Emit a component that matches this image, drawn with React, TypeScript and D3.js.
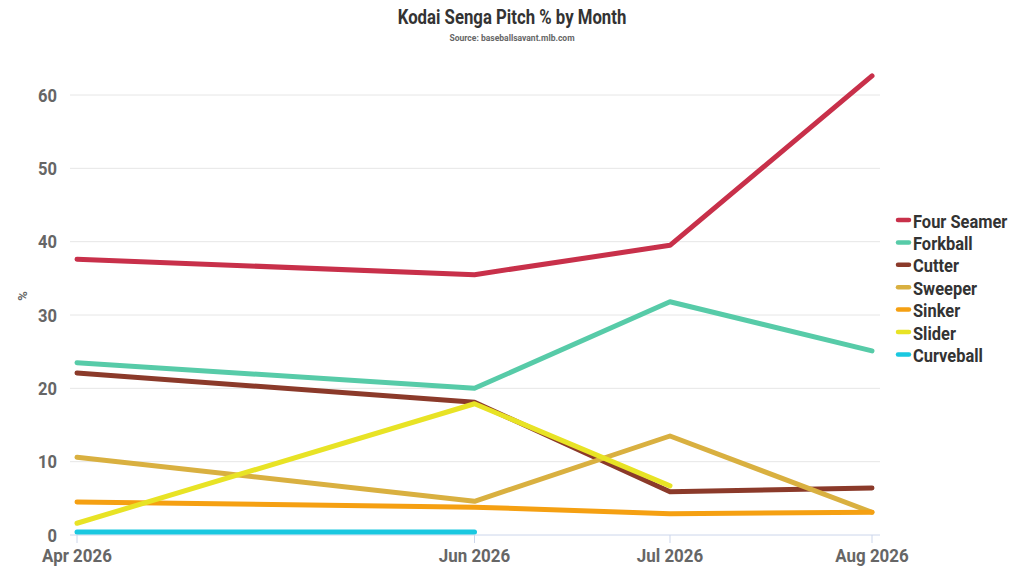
import React, { useEffect, useRef } from 'react';
import * as d3 from 'd3';

const months = ['2026-04-01', '2026-06-01', '2026-07-01', '2026-08-01'];
const monthLabels = ['Apr 2026', 'Jun 2026', 'Jul 2026', 'Aug 2026'];

const pitchNames = ['Four Seamer', 'Forkball', 'Cutter', 'Sweeper', 'Sinker', 'Slider', 'Curveball'];
const pitchColors = ['#c8304a', '#57cba8', '#8b3a2a', '#d9b040', '#f5a012', '#e8e325', '#1ac8e0'];

const fourSeamer = [37.6, 35.5, 39.5, 62.6];
const forkball = [23.5, 20.0, 31.8, 25.1];
const cutter = [22.1, 18.1, 5.9, 6.4];
const sweeper = [10.6, 4.6, 13.5, 3.1];
const sinker = [4.5, 3.8, 2.9, 3.1];
const slider = [1.6, 17.9, 6.7, null];
const curveball = [0.4, 0.4, null, null];

const yTicks = [0, 10, 20, 30, 40, 50, 60];

const seriesValues = [fourSeamer, forkball, cutter, sweeper, sinker, slider, curveball];

const W = 1024;
const H = 576;
const FONT = 'Roboto, "Noto Sans", sans-serif';

type Sel = d3.Selection<any, unknown, null, undefined>;

// Roboto squeezed horizontally to look like the condensed face in the original
function addText(
  parent: Sel,
  x: number,
  y: number,
  text: string,
  size: number,
  fill: string,
  anchor = 'start',
  sx = 0.9,
) {
  return parent.append('g')
    .attr('transform', `translate(${x}, ${y}) scale(${sx}, 1)`)
    .append('text')
    .attr('text-anchor', anchor)
    .style('font-family', FONT)
    .style('font-weight', 700)
    .style('font-size', `${size}px`)
    .style('fill', fill)
    .text(text);
}

export default function App() {
  const svgRef = useRef<SVGSVGElement>(null);

  useEffect(() => {
    if (!svgRef.current) return;
    const svg = d3.select(svgRef.current) as unknown as Sel;
    svg.selectAll('*').remove();

    const parse = d3.timeParse('%Y-%m-%d');
    const dates = months.map(m => parse(m) as Date);

    const x = d3.scaleTime()
      .domain([dates[0], dates[dates.length - 1]])
      .range([77, 872]);

    const y = d3.scaleLinear()
      .domain([0, 60])
      .range([535, 95]);

    // Title
    addText(svg, 512, 24, 'Kodai Senga Pitch % by Month', 19.5, '#333', 'middle', 0.86);
    addText(svg, 512, 41, 'Source: baseballsavant.mlb.com', 9.5, '#666', 'middle', 0.9);

    // Grid
    const g = svg.append('g');
    g.selectAll('.grid')
      .data(yTicks.filter(t => t > 0))
      .enter().append('line')
      .attr('x1', 70).attr('x2', 880)
      .attr('y1', d => y(d)).attr('y2', d => y(d))
      .style('stroke', '#e6e6e6')
      .style('stroke-width', 1);

    // X baseline
    g.append('line')
      .attr('x1', 70).attr('x2', 880)
      .attr('y1', y(0)).attr('y2', y(0))
      .style('stroke', '#ccd6eb')
      .style('stroke-width', 1);

    // Y axis labels
    yTicks.forEach(t => {
      addText(g, 57, y(t) + 6.5, String(t), 18, '#666', 'end', 0.92);
    });

    svg.append('text')
      .attr('transform', `translate(27, 296) rotate(-90)`)
      .attr('text-anchor', 'middle')
      .style('font-family', FONT)
      .style('font-weight', 700)
      .style('font-size', '13px')
      .style('fill', '#666')
      .text('%');

    // X ticks and labels
    dates.forEach((d, i) => {
      g.append('line')
        .attr('x1', x(d)).attr('x2', x(d))
        .attr('y1', y(0)).attr('y2', y(0) + 8)
        .style('stroke', '#ccd6eb');
      addText(g, x(d), 561.5, monthLabels[i], 18, '#666', 'middle', 0.94);
    });

    // Lines
    const line = d3.line<{ date: Date; v: number | null }>()
      .defined(p => p.v !== null)
      .x(p => x(p.date))
      .y(p => y(p.v as number));

    seriesValues.forEach((vals, i) => {
      const pts = vals.map((v, j) => ({ date: dates[j], v }));
      g.append('path')
        .datum(pts)
        .attr('d', line)
        .attr('fill', 'none')
        .attr('stroke', pitchColors[i])
        .attr('stroke-width', 5)
        .attr('stroke-linecap', 'round')
        .attr('stroke-linejoin', 'round');
    });

    // Legend
    const legend = svg.append('g').attr('transform', 'translate(897, 220)');
    pitchNames.forEach((name, i) => {
      const row = legend.append('g').attr('transform', `translate(0, ${i * 22.4})`);
      row.append('line')
        .attr('x1', 1).attr('x2', 12)
        .attr('y1', 0).attr('y2', 0)
        .attr('stroke', pitchColors[i])
        .attr('stroke-width', 4.5)
        .attr('stroke-linecap', 'round');
      addText(row, 16, 7.5, name, 17.5, '#333', 'start', 0.94);
    });
  }, []);

  return (
    <svg
      ref={svgRef}
      width={W}
      height={H}
      viewBox={`0 0 ${W} ${H}`}
      style={{ position: 'absolute', left: 0, top: 0, background: '#fff' }}
    />
  );
}
